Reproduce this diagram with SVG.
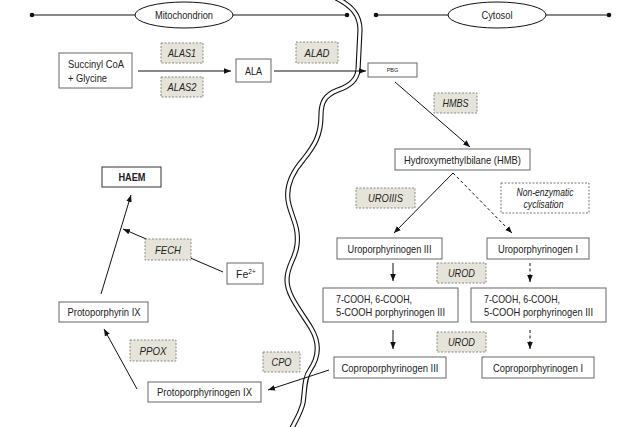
<svg xmlns="http://www.w3.org/2000/svg" width="640" height="427" viewBox="0 0 640 427">
<defs>
<marker id="ah" viewBox="0 0 10 10" refX="10" refY="5" markerWidth="7" markerHeight="7" orient="auto" markerUnits="userSpaceOnUse"><path d="M0,1 L10,5 L0,9 z" fill="#111"/></marker>
<style>
.box{fill:#fff;stroke:#666;stroke-width:1}
.enz{fill:#e6e4da;stroke:#8a8a80;stroke-width:1;stroke-dasharray:2,1.5}
.note{fill:#fff;stroke:#777;stroke-width:1;stroke-dasharray:2,1.5}
text{font-family:"Liberation Sans",Arial,sans-serif;font-size:10.5px;fill:#222}
.c{text-anchor:middle}
.i{font-style:italic}
.b{font-weight:bold}
.ln{stroke:#111;stroke-width:1;fill:none}
.arr{stroke:#111;stroke-width:1;fill:none;marker-end:url(#ah)}
.dash{stroke-dasharray:3,2.5}
</style>
</defs>
<rect width="640" height="427" fill="#fff"/>

<g id="membrane">
<path d="M336,-2 C352,6 360,15 360,30 L358,70 C357,80 350,86 338,90 C325,95 321,102 321,115 C321,135 315,145 303,160 C290,175 285,190 289,205 C293,220 299,228 297,245 C296,258 287,265 287,280 C287,295 300,310 311,328 C320,343 319,357 310,370 C304,378 305,390 303,403 C301,412 297,418 292,428" fill="none" stroke="#111" stroke-width="5.2"/>
<path d="M336,-2 C352,6 360,15 360,30 L358,70 C357,80 350,86 338,90 C325,95 321,102 321,115 C321,135 315,145 303,160 C290,175 285,190 289,205 C293,220 299,228 297,245 C296,258 287,265 287,280 C287,295 300,310 311,328 C320,343 319,357 310,370 C304,378 305,390 303,403 C301,412 297,418 292,428" fill="none" stroke="#fff" stroke-width="3"/>
</g>

<g id="compartments">
<line x1="32" y1="15" x2="347" y2="15" class="ln"/>
<circle cx="32" cy="15" r="2.3" fill="#111"/>
<circle cx="347" cy="15" r="2.3" fill="#111"/>
<ellipse cx="184" cy="15" rx="49" ry="13" fill="#fff" stroke="#111"/>
<text x="184" y="19" class="c" textLength="58" lengthAdjust="spacingAndGlyphs">Mitochondrion</text>
<line x1="376" y1="15" x2="609" y2="15" class="ln"/>
<circle cx="376" cy="15" r="2.3" fill="#111"/>
<circle cx="609" cy="15" r="2.3" fill="#111"/>
<ellipse cx="497" cy="15" rx="49" ry="13" fill="#fff" stroke="#111"/>
<text x="497" y="19" class="c" textLength="31" lengthAdjust="spacingAndGlyphs">Cytosol</text>
</g>

<g id="connectors">
<line x1="138" y1="71" x2="231" y2="71" class="arr"/>
<line x1="274" y1="71" x2="366" y2="71" class="arr"/>
<line x1="395" y1="82" x2="470" y2="147" class="arr"/>
<line x1="453" y1="173" x2="394" y2="233" class="arr"/>
<line x1="453" y1="173" x2="512" y2="233" class="arr dash"/>
<line x1="393" y1="263" x2="393" y2="281" class="arr"/>
<line x1="530" y1="263" x2="530" y2="282" class="arr dash"/>
<line x1="393" y1="330" x2="393" y2="349" class="arr"/>
<line x1="530" y1="330" x2="530" y2="349" class="arr dash"/>
<line x1="329" y1="370" x2="268" y2="390" class="arr"/>
<line x1="137" y1="389" x2="104" y2="329" class="arr"/>
<line x1="101" y1="294" x2="131" y2="195" class="arr"/>
<line x1="223" y1="272" x2="123" y2="229" class="arr"/>
</g>

<g id="succinyl"><rect x="59" y="53" width="73" height="35" class="box"/><text x="68" y="68" textLength="56" lengthAdjust="spacingAndGlyphs">Succinyl CoA</text><text x="68" y="82" textLength="39" lengthAdjust="spacingAndGlyphs">+ Glycine</text></g>
<g id="alas1"><rect x="161" y="43" width="42" height="20" class="enz"/><text x="182" y="57" class="c i" textLength="28" lengthAdjust="spacingAndGlyphs">ALAS1</text></g>
<g id="alas2"><rect x="161" y="77" width="42" height="20" class="enz"/><text x="182" y="91" class="c i" textLength="29" lengthAdjust="spacingAndGlyphs">ALAS2</text></g>
<g id="ala"><rect x="236" y="59" width="35" height="23" class="box"/><text x="253.5" y="74.5" class="c" textLength="17" lengthAdjust="spacingAndGlyphs">ALA</text></g>
<g id="alad"><rect x="296" y="42" width="42" height="21" class="enz"/><text x="317" y="56.5" class="c i" textLength="25" lengthAdjust="spacingAndGlyphs">ALAD</text></g>
<g id="pbg"><rect x="368" y="63" width="49" height="14" class="box"/><text x="392.5" y="72.3" class="c" style="font-size:5.5px">PBG</text></g>
<g id="hmbs"><rect x="434" y="93" width="43" height="20" class="enz"/><text x="455.5" y="107" class="c i" textLength="26" lengthAdjust="spacingAndGlyphs">HMBS</text></g>
<g id="hmb"><rect x="395" y="149" width="135" height="21" class="box"/><text x="462.5" y="163.5" class="c" textLength="117" lengthAdjust="spacingAndGlyphs">Hydroxymethylbilane (HMB)</text></g>
<g id="uroiiis"><rect x="356" y="188" width="59" height="20" class="enz"/><text x="385.5" y="202" class="c i" textLength="35" lengthAdjust="spacingAndGlyphs">UROIIIS</text></g>
<g id="nonenz"><rect x="501" y="183" width="88" height="30" class="note"/><text x="545" y="196" class="c i" textLength="57" lengthAdjust="spacingAndGlyphs">Non-enzymatic</text><text x="543.5" y="207.5" class="c i" textLength="40" lengthAdjust="spacingAndGlyphs">cyclisation</text></g>
<g id="uro3"><rect x="337" y="238" width="105" height="21" class="box"/><text x="389.5" y="252.5" class="c" textLength="84" lengthAdjust="spacingAndGlyphs">Uroporphyrinogen III</text></g>
<g id="uro1"><rect x="487" y="238" width="102" height="21" class="box"/><text x="538" y="252.5" class="c" textLength="80" lengthAdjust="spacingAndGlyphs">Uroporphyrinogen I</text></g>
<g id="urod1"><rect x="437" y="263" width="49" height="20" class="enz"/><text x="461.5" y="277" class="c i" textLength="27" lengthAdjust="spacingAndGlyphs">UROD</text></g>
<g id="cooh3"><rect x="323" y="288" width="135" height="34" class="box"/><text x="336" y="302.5" textLength="76" lengthAdjust="spacingAndGlyphs">7-COOH, 6-COOH,</text><text x="336" y="315.5" textLength="109" lengthAdjust="spacingAndGlyphs">5-COOH porphyrinogen III</text></g>
<g id="cooh1"><rect x="471" y="288" width="135" height="34" class="box"/><text x="484" y="302.5" textLength="76" lengthAdjust="spacingAndGlyphs">7-COOH, 6-COOH,</text><text x="484" y="315.5" textLength="109" lengthAdjust="spacingAndGlyphs">5-COOH porphyrinogen III</text></g>
<g id="urod2"><rect x="437" y="332" width="49" height="20" class="enz"/><text x="461.5" y="346" class="c i" textLength="27" lengthAdjust="spacingAndGlyphs">UROD</text></g>
<g id="copro3"><rect x="334" y="357" width="112" height="21" class="box"/><text x="390" y="371.5" class="c" textLength="97" lengthAdjust="spacingAndGlyphs">Coproporphyrinogen III</text></g>
<g id="copro1"><rect x="482" y="357" width="112" height="21" class="box"/><text x="538" y="371.5" class="c" textLength="90" lengthAdjust="spacingAndGlyphs">Coproporphyrinogen I</text></g>
<g id="cpo"><rect x="263" y="352" width="37" height="20" class="enz"/><text x="281.5" y="366" class="c i" textLength="20" lengthAdjust="spacingAndGlyphs">CPO</text></g>
<g id="protogen"><rect x="148" y="382" width="113" height="20" class="box"/><text x="204.5" y="396" class="c" textLength="95" lengthAdjust="spacingAndGlyphs">Protoporphyrinogen IX</text></g>
<g id="ppox"><rect x="130" y="340" width="46" height="21" class="enz"/><text x="153" y="354.5" class="c i" textLength="27" lengthAdjust="spacingAndGlyphs">PPOX</text></g>
<g id="proto"><rect x="59" y="302" width="89" height="20" class="box"/><text x="104" y="316" class="c" textLength="73" lengthAdjust="spacingAndGlyphs">Protoporphyrin IX</text></g>
<g id="haem"><rect x="102" y="167" width="59" height="20" class="box" style="stroke:#333"/><text x="132" y="181" class="c b" textLength="27" lengthAdjust="spacingAndGlyphs">HAEM</text></g>
<g id="fech"><rect x="145" y="239" width="46" height="21" class="enz"/><text x="168" y="253.5" class="c i" textLength="26" lengthAdjust="spacingAndGlyphs">FECH</text></g>
<g id="fe"><rect x="227" y="263" width="36" height="21" class="box"/><text x="236" y="277.5">Fe<tspan dy="-3.5" style="font-size:6.5px">2+</tspan></text></g>
</svg>
